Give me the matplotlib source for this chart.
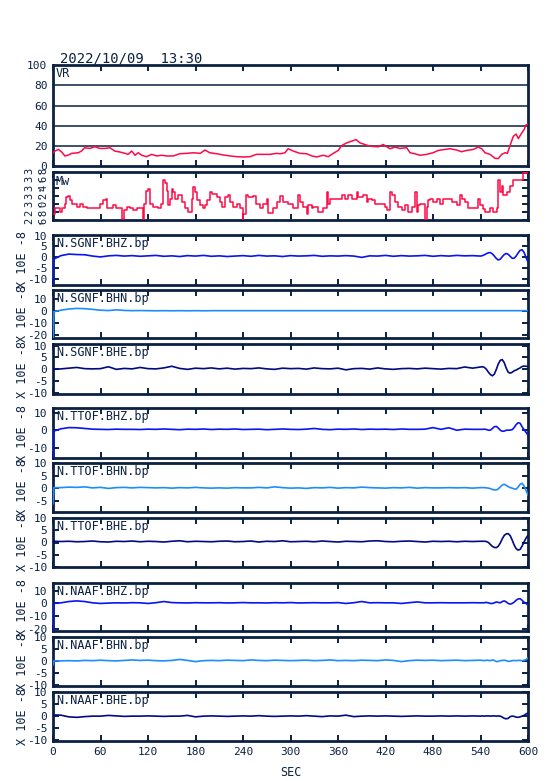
import matplotlib
matplotlib.use("Agg")
import matplotlib.pyplot as plt
from matplotlib.ticker import MultipleLocator

plt.rcParams['font.family'] = ['DejaVu Sans Mono', 'DejaVu Sans']
plt.rcParams['axes.unicode_minus'] = False

# ---------------- data ----------------
TITLE = "2022/10/09  13:30"
X_TICKS = [0, 60, 120, 180, 240, 300, 360, 420, 480, 540, 600]

VR_T = [0, 2.5, 6.7, 11, 15, 19, 23.6, 32, 36, 40, 46.7, 53, 59, 66, 72, 78, 84.6, 91, 95, 99.4,
        103.6, 107.6, 112, 118, 124.7, 131, 137, 144, 152, 160, 169, 177, 186, 192, 198, 207, 215,
        223.6, 232, 240, 249, 257, 265.6, 274, 282.6, 287, 293, 297, 303.5, 307, 312, 320.5, 327,
        333, 341.4, 347.7, 354, 360.4, 364.7, 371, 377, 382.7, 387.8, 394, 400, 411, 417, 425.7,
        432, 438, 446.8, 451, 457, 463.6, 472, 480, 486.7, 495, 501.5, 510, 516, 522.5, 531, 537,
        541.5, 545.7, 552, 558.3, 562.5, 566.8, 571, 574, 577, 581.5, 585, 587.8, 592, 595.4,
        597.5, 600]
VR_V = [13, 14.7, 16.3, 13.7, 9.8, 10.5, 12.4, 13, 14.7, 18, 17.3, 19, 17.3, 17.3, 18, 14.7, 13.7,
        12.4, 11.4, 14.7, 10.5, 13, 10.5, 9.1, 11.4, 9.8, 10.5, 9.8, 9.8, 12, 12.4, 13, 12.4, 15.7,
        13, 12, 10.8, 9.8, 9.1, 8.8, 9.1, 11.4, 11.4, 11.4, 12.4, 12, 13, 17, 14.7, 13.7, 12.4, 12,
        9.8, 8.8, 10.5, 9.1, 12.4, 15.3, 20.2, 22.8, 24.5, 26.1, 22.8, 21.2, 19.6, 18.9, 21.2, 17,
        18.6, 17.3, 18, 13, 12, 10.5, 11.4, 13, 15.3, 16.3, 17, 15.7, 14, 15.3, 16.3, 18.6, 17, 13,
        11.4, 7.5, 7.2, 11.4, 13, 12.4, 19.6, 29.4, 31.6, 27.1, 32.6, 36.5, 40.7, 41.4]

MW_T = [0, 2.5, 8.8, 11, 15, 17, 19, 22, 23.6, 30, 34, 38, 42.5, 59, 63.6, 67, 68, 76, 80, 86.7,
        89.7, 93, 97, 101.5, 105.7, 114, 115, 118, 120.4, 122.5, 126.7, 133, 137, 139, 141.5,
        143.6, 145.7, 147.8, 150, 152, 154, 158, 162.5, 166.7, 171, 175, 177, 179, 181.5, 185.7,
        190, 192, 194, 198, 200.4, 206.7, 211, 213, 217, 221.5, 223.6, 227.8, 232, 236, 239.6,
        240.4, 243.8, 246.7, 253, 257, 261.5, 265.7, 270, 272, 278, 282.5,
        286.7, 291, 297, 303.5, 310, 312, 316, 320.4, 322.5, 326.7, 328.8, 335, 341.4, 345.6,
        347.7, 349.9, 364.6, 368.8, 373, 377.2, 383.5, 385.6, 392, 396, 398.3, 402.5, 406.7,
        419.3, 421.4, 425.6, 427.8, 432, 436.2, 440.4, 444.6, 448.8, 453, 457.2, 459.3, 461.4,
        463.5, 469.9, 472, 474, 476.2, 480.4, 484.6, 488.8, 493, 503.5, 509.9, 514, 516.2, 520.4,
        524.6, 537.2, 539.3, 543.5, 545.6, 552, 556.2, 560.4, 562.5, 564.6, 566.7, 568.8, 573,
        577.2, 581.4, 594, 596.2, 598.3, 600]
MW_V = [2.74, 2.89, 2.81, 2.89, 2.99, 3.17, 3.19, 3.09, 2.99, 2.93, 2.99, 2.93, 2.91, 2.99, 3.09,
        3.13, 2.91, 2.97, 2.89, 2.62, 2.85, 2.93, 2.89, 2.85, 2.89, 2.62, 2.99, 3.33, 3.38, 2.99,
        2.93, 2.89, 2.99, 3.60, 3.52, 3.33, 2.97, 3.13, 3.38, 3.29, 3.13, 3.21, 3.05, 2.91, 2.81,
        3.13, 3.41, 3.29, 3.09, 2.97, 2.89, 2.97, 3.09, 3.29, 3.25, 3.17, 3.05, 2.93, 3.17, 3.21,
        3.05, 2.93, 3.01, 2.89, 2.62, 2.74, 3.21, 3.17, 3.19, 2.99, 2.89, 3.01, 3.13, 2.78, 2.89,
        3.05,
        3.19, 3.05, 2.99, 2.89, 3.21, 3.05, 2.93, 2.74, 2.97, 2.89, 2.93, 2.81, 2.89, 3.29, 3.01,
        3.13, 3.21, 3.13, 3.21, 3.13, 3.29, 3.17, 3.21, 3.05, 3.13, 3.09, 2.99, 2.93, 2.85, 3.29,
        3.21, 3.05, 2.93, 2.85, 2.97, 2.81, 2.93, 3.29, 2.81, 2.97, 2.99, 2.58, 2.93, 3.09, 3.13,
        3.05, 3.13, 3.01, 3.13, 3.05, 2.97, 3.21, 3.13, 3.05, 2.91, 3.13, 2.97, 2.88, 2.81, 2.89,
        2.81, 2.89, 3.60, 3.29, 3.45, 3.21, 3.29, 3.45, 3.60, 3.80, 3.76, 3.80, 3.80]
MW_TICKS = [2.6, 2.8, 3.0, 3.2, 3.4, 3.6, 3.8]
MW_TICK_LABELS = ["2.6", "2.8", "3.0", "3.2", "3.4", "3.6", "3.8"]

# seismogram sample times (s)
SEIS_T = [0, 1] + list(range(10, 541, 10)) + [542.5 + 2.5 * i for i in range(24)]

SGNF_BHZ = [-20, -0.8,
            0.8, 1.5, 1.3, 1.2, 0.6, 0.2, 0.7, 0.9, 0.6, 0.8,
            0.5, 0.7, 0.9, 0.5, 0.7, 0.4, 0.8, 0.6, 0.9, 0.5,
            0.7, 0.4, 0.6, 0.8, 0.5, 0.9, 0.6, 0.7, 0.4, 0.8,
            0.6, 0.7, 0.9, 0.5, 0.7, 0.6, 0.8, 0.6, 0.0, 0.7,
            0.6, 0.9, 0.5, 0.8, 0.6, 0.7, 0.9, 0.5, 0.8, 0.6,
            0.9, 0.7, 0.8, 0.6,
            0.8, 1.2, 1.7, 2.1, 2.2, 1.6, 0.6, -0.5, -1.2, -0.8, 0.3, 1.3,
            1.8, 1.4, 0.5, -0.4, -0.4, 0.6, 2.0, 3.2, 3.5, 2.3, 0.0, -2.2]
SGNF_BHN = [-30, -0.8,
            0.5, 1.5, 2.0, 1.8, 1.2, 0.5, 0.2, 0.8, 0.3, 0.1,
            0.2, 0.1, 0.0, 0.1, 0.0, 0.1, 0.0, 0.1, 0.0, 0.1,
            0.1, 0.1, 0.1, 0.1, 0.1, 0.1, 0.1, 0.1, 0.1, 0.1,
            0.1, 0.1, 0.1, 0.1, 0.1, 0.1, 0.1, 0.1, 0.1, 0.1,
            0.1, 0.1, 0.1, 0.1, 0.1, 0.1, 0.1, 0.1, 0.1, 0.1,
            0.1, 0.1, 0.1, 0.1,
            0.1, 0.1, 0.1, 0.1, 0.1, 0.1, 0.1, 0.1, 0.1, 0.1, 0.1, 0.1,
            0.1, 0.1, 0.1, 0.1, 0.1, 0.1, 0.1, 0.1, 0.1, 0.1, 0.1, 0.1]
SGNF_BHE = [0.0, 0.0,
            0.2, 0.5, 0.8, 0.3, 0.2, 0.3, 1.1, 0.0, 0.4, 0.2,
            0.8, 0.3, 0.2, 0.6, 1.3, 0.4, 0.0, 0.5, 0.3, 0.6,
            0.2, 0.5, 0.1, 0.4, 0.3, 0.6, 0.2, 0.0, 0.5, 0.3,
            0.4, 0.1, 0.6, 0.3, 0.2, 0.5, -0.2, 0.3, 0.4, 0.1,
            0.6, 0.2, 0.0, 0.3, 0.4, 0.2, 0.5, 0.3, 0.1, 0.4,
            0.3, 1.0, 0.5, 1.0,
            1.1, 0.8, 0.0, -1.2, -2.2, -2.7, -2.0, 0.0, 2.3, 3.8, 4.1, 2.8,
            0.5, -1.2, -1.6, -1.2, -0.6, -0.3, 0.2, 0.6, 1.2, 1.4, 1.3, 1.2]
TTOF_BHZ = [-30, -0.5,
            0.8, 1.5, 1.4, 1.0, 0.6, 0.5, 0.4, 0.6, 0.5, 0.5,
            0.4, 0.6, 0.5, 0.7, 0.5, 0.3, 0.6, 0.5, 0.7, 0.4,
            0.6, 0.5, 0.7, 0.4, 0.5, 0.6, 0.3, 0.5, 0.7, 0.5,
            0.4, 0.6, 1.0, 0.5, 0.3, 0.6, 0.5, 0.7, 0.4, 0.6,
            0.5, 0.6, 0.4, 0.7, 0.5, 0.5, 0.6, 1.5, 0.5, 1.4,
            0.0, 0.6, 0.5, 0.5,
            0.5, 0.6, 0.4, 0.0, 0.0, 1.0, 2.0, 2.2, 1.2, 0.0, -0.6, -0.5,
            0.0, 0.0, 0.1, 0.3, 1.5, 3.2, 4.3, 4.0, 2.0, 0.3, -1.2, -2.8]
TTOF_BHN = [-6, 0.3,
            0.3, 0.5, 0.4, 0.6, 0.2, 0.4, 0.0, 0.3, 0.4, 0.2,
            0.4, 0.3, 0.2, 0.3, 0.1, 0.3, 0.2, 0.4, 0.2, 0.1,
            0.2, 0.1, 0.3, 0.2, 0.2, 0.4, 0.2, 0.6, 0.3, 0.1,
            0.2, 0.0, 0.3, 0.2, 0.4, 0.1, 0.3, 0.2, 0.5, 0.3,
            0.2, 0.1, 0.3, 0.2, 0.4, 0.1, 0.3, 0.2, 0.2, 0.3,
            0.2, 0.3, 0.1, 0.3,
            0.3, 0.3, 0.2, 0.1, -0.1, -0.4, -0.6, -0.6, -0.2, 0.6, 1.3, 1.6,
            1.2, 0.7, 0.3, 0.1, -0.2, -0.3, 0.5, 1.6, 2.0, 1.0, -0.8, -2.6]
TTOF_BHE = [0.0, 0.5,
            0.4, 0.5, 0.3, 0.4, 0.6, 0.3, 0.2, 0.5, 0.4, 0.6,
            0.3, 0.5, 0.4, 0.2, 0.5, 0.7, 0.3, 0.5, 0.4, 0.3,
            0.5, 0.6, 0.3, 0.4, 0.6, 0.2, 0.5, 0.4, 0.7, 0.3,
            0.4, 0.5, 0.3, 0.6, 0.4, 0.2, 0.5, 0.4, 0.3, 0.6,
            0.7, 0.4, 0.3, 0.5, 0.6, 0.4, 0.2, 0.5, 0.4, 0.5,
            0.3, 0.5, 0.4, 0.5,
            0.5, 0.5, 0.4, 0.0, -0.8, -1.6, -2.0, -2.1, -1.5, -0.2, 1.5, 2.9,
            3.5, 3.6, 2.8, 1.0, -1.0, -2.5, -3.1, -2.8, -1.5, 0.2, 1.8, 2.9]
NAAF_BHZ = [-40, 0.0,
            0.5, 1.5, 2.0, 1.5, 0.5, 0.0, 0.3, 0.5, 0.4, 0.6,
            0.5, 0.0, 0.6, 1.5, 0.7, 0.5, 0.4, 0.6, 0.5, 0.5,
            0.6, 0.4, 0.5, 0.7, 0.5, 0.5, 0.4, 0.6, 0.5, 0.7,
            0.4, 0.5, 0.6, 0.5, 0.5, 0.7, 0.0, 0.6, 1.5, 0.5,
            0.6, 0.5, 0.5, 0.0, 0.6, 1.2, 0.5, 0.5, 0.6, 0.5,
            0.5, 0.5, 0.6, 0.5,
            0.5, 0.6, 0.8, 0.5, 0.0, 0.0, 0.5, 1.2, 0.8, 0.5, 1.5, 2.0,
            1.2, 0.0, -0.5, 0.0, 1.0, 2.5, 3.5, 3.7, 2.5, 1.0, 0.0, -1.2]
NAAF_BHN = [-1.7, 0.0,
            0.0, 0.1, 0.0, 0.2, 0.1, 0.3, 0.1, 0.0, 0.2, 0.4,
            0.2, 0.3, 0.1, 0.0, 0.2, 0.6, 0.2, -0.3, 0.1, 0.2,
            0.1, 0.3, 0.2, 0.1, 0.4, 0.2, 0.1, 0.3, 0.2, 0.1,
            0.2, 0.3, 0.1, 0.2, 0.4, 0.1, 0.2, 0.1, 0.3, 0.2,
            0.1, 0.4, 0.2, -0.3, 0.1, 0.3, 0.2, 0.3, 0.1, 0.2,
            0.3, 0.1, 0.2, 0.3,
            0.2, 0.1, 0.3, 0.2, 0.1, 0.4, 0.2, -0.3, -0.2, 0.1, 0.2, 0.3,
            0.1, -0.2, -0.1, 0.1, 0.2, 0.1, 0.2, 0.2, 0.1, 0.2, 0.5, 1.3]
NAAF_BHE = [0.5, 0.5,
            0.4, -0.3, -0.5, -0.2, 0.0, 0.0, 0.3, 0.1, -0.1, 0.0,
            0.0, 0.1, 0.0, -0.1, 0.0, 0.0, 0.3, -0.3, 0.0, 0.1,
            0.0, -0.1, 0.0, 0.1, 0.0, 0.2, 0.0, -0.1, 0.0, 0.1,
            0.0, 0.2, 0.0, -0.2, 0.1, 0.0, 0.4, -0.2, 0.0, 0.1,
            0.0, 0.1, 0.0, -0.1, 0.0, 0.1, 0.0, 0.0, 0.1, 0.0,
            0.1, 0.0, 0.1, 0.0,
            0.1, 0.0, 0.1, 0.1, 0.0, 0.1, 0.1, 0.0, 0.1, 0.0, -0.4, -0.9,
            -1.1, -0.9, -0.2, 0.0, -0.1, -0.4, -0.5, -0.3, 0.0, 0.3, 0.9, 1.3]

TRACE_NAMES = ["N.SGNF.BHZ.bp", "N.SGNF.BHN.bp", "N.SGNF.BHE.bp",
               "N.TTOF.BHZ.bp", "N.TTOF.BHN.bp", "N.TTOF.BHE.bp",
               "N.NAAF.BHZ.bp", "N.NAAF.BHN.bp", "N.NAAF.BHE.bp"]
TRACES = [SGNF_BHZ, SGNF_BHN, SGNF_BHE, TTOF_BHZ, TTOF_BHN, TTOF_BHE,
          NAAF_BHZ, NAAF_BHN, NAAF_BHE]
Y_LABEL = "X 10E -8"
X_LABEL = "SEC"

# ---------------- style / layout ----------------
W, H = 554, 781
NAVY = "#0b2142"
RED = "#ff0a46"
COMP_COLORS = {"BHZ": "#0a14f0", "BHN": "#1e8cff", "BHE": "#000a82"}
LEFT, RIGHT = 53, 528
PANELS = [(64.5, 166.7), (170.7, 221),
          (234, 286), (289, 339), (343, 395),
          (407, 459), (462, 513), (517, 568),
          (582, 632), (636, 687), (691, 742)]
SEIS_YLIM = [(-12.7, 10.3, 5), (-23, 17.6, 10), (-10.4, 10.7, 5),
             (-16, 12.8, 10), (-9.3, 10.0, 5), (-10.0, 10.0, 5),
             (-21.5, 16, 10), (-10.5, 10.0, 5), (-10.3, 10.0, 5)]
INSET = 0.9  # px trimmed from each panel edge so neighbouring frames stay apart

fig = plt.figure(figsize=(W / 100, H / 100), dpi=100)


def make_ax(top, bot):
    top += INSET
    bot -= INSET
    return fig.add_axes([LEFT / W, 1 - bot / H, (RIGHT - LEFT) / W, (bot - top) / H])


def style(ax, bottom_labels=False):
    for s in ax.spines.values():
        s.set_linewidth(2.0)
        s.set_color(NAVY)
    ax.set_xlim(0, 600)
    ax.set_xticks(X_TICKS)
    ax.tick_params(direction="in", length=4.5, width=1.4, color=NAVY,
                   top=True, right=True, labelcolor=NAVY, labelsize=8, pad=4)
    if not bottom_labels:
        ax.tick_params(labelbottom=False)


# VR panel
ax = make_ax(*PANELS[0])
style(ax)
ax.plot(VR_T, VR_V, color=RED, lw=1.1, zorder=3)
ax.set_ylim(0, 100)
ax.set_yticks([0, 20, 40, 60, 80, 100])
ax.tick_params(axis="y", length=0)
for g in [20, 40, 60, 80]:
    ax.axhline(g, color=NAVY, lw=1.1, zorder=1)
ax.text(0.006, 0.985, "VR", transform=ax.transAxes, va="top", ha="left",
        fontsize=8.5, color=NAVY)
fig.text(60 / W, 1 - 62.7 / H, TITLE, fontsize=10, color=NAVY, va="baseline", ha="left")

# Mw panel
ax = make_ax(*PANELS[1])
style(ax)
ax.plot(MW_T, MW_V, color=RED, lw=1.1, drawstyle="steps-post", zorder=3)
ax.set_ylim(2.6, 3.8)
ax.set_yticks(MW_TICKS)
ax.tick_params(axis="y", labelleft=False, length=4)
ax.text(0.006, 0.93, "Mw", transform=ax.transAxes, va="top", ha="left",
        fontsize=8.5, color=NAVY)
top, bot = PANELS[1]
for val, lab in zip(MW_TICKS, MW_TICK_LABELS):
    ypix = bot - (val - 2.6) / 1.2 * (bot - top)
    for k, ch in enumerate(lab):
        fig.text((29 + 7 * k) / W, 1 - ypix / H, ch, rotation=90, fontsize=7.5,
                 color=NAVY, ha="center", va="center")

# seismogram panels
for i, (name, vals, (lo, hi, step)) in enumerate(zip(TRACE_NAMES, TRACES, SEIS_YLIM)):
    top, bot = PANELS[2 + i]
    ax = make_ax(top, bot)
    style(ax, bottom_labels=(i == len(TRACES) - 1))
    comp = name.split(".")[2]
    ax.plot(SEIS_T, vals, color=COMP_COLORS[comp], lw=1.2, zorder=3)
    ax.set_ylim(lo, hi)
    ax.yaxis.set_major_locator(MultipleLocator(step))
    ax.text(0.006, 0.96, name, transform=ax.transAxes, va="top", ha="left",
            fontsize=8.5, color=NAVY)
    fig.text(22 / W, 1 - (top + bot) / 2 / H, Y_LABEL, rotation=90, fontsize=8.5,
             color=NAVY, ha="center", va="center")
    if i == len(TRACES) - 1:
        ax.set_xlabel(X_LABEL, fontsize=8.5, color=NAVY, labelpad=7)

fig.savefig("out.png", dpi=100, facecolor="white")
